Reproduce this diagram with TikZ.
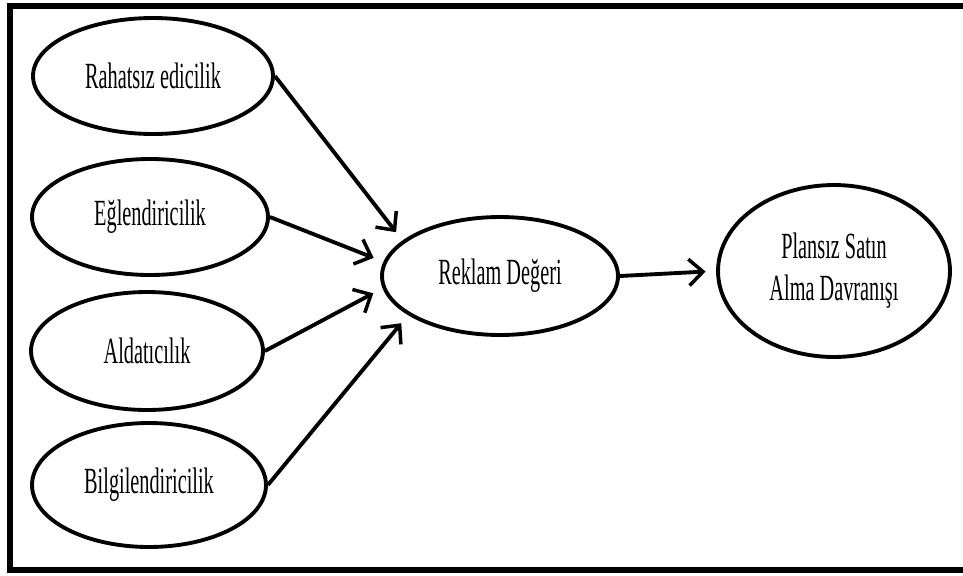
\documentclass[tikz,border=0pt]{standalone}
\usepackage{fontspec}
\newfontfamily\narrowtimes[FakeStretch=0.55]{Liberation Serif}
\usetikzlibrary{shapes.geometric,arrows.meta}

\begin{document}
\begin{tikzpicture}[x=0.02cm,y=-0.02cm,
    factor/.style={ellipse,draw,line width=2.2pt,inner sep=0pt,font=\narrowtimes\fontsize{21}{24}\selectfont,align=center},
    effect/.style={line width=2.2pt,-{Straight Barb[length=8pt,width=15pt,line width=2pt]},shorten >=6pt}]
        \useasboundingbox (0,0) rectangle (963,575);
        \draw[line width=3pt] (10,6) rectangle (1000,570);
        \node[factor,minimum width=4.8cm,minimum height=2.32cm] (rahatsiz) at (153,76) {Rahatsız edicilik};
        \node[factor,minimum width=4.72cm,minimum height=2.32cm] (eglence) at (150,217) {Eğlendiricilik};
        \node[factor,minimum width=4.64cm,minimum height=2.36cm] (aldatma) at (147,351) {Aldatıcılık};
        \node[factor,minimum width=4.68cm,minimum height=2.48cm] (bilgi) at (149,485) {Bilgilendiricilik};
        \node[factor,minimum width=4.72cm,minimum height=2.36cm] (reklam) at (500,276) {Reklam Değeri};
        \node[factor,minimum width=4.64cm,minimum height=3.44cm] (plansiz) at (834,271) {Plansız Satın\\Alma Davranışı};
        \draw[effect] (rahatsiz.east) -- (reklam.160);
        \draw[effect] (eglence.east) -- (reklam.173);
        \draw[effect] (aldatma.east) -- (reklam.186);
        \draw[effect] (bilgi.east) -- (reklam.203);
        \draw[effect] (reklam.east) -- (plansiz.west);
      \end{tikzpicture}
\end{document}
